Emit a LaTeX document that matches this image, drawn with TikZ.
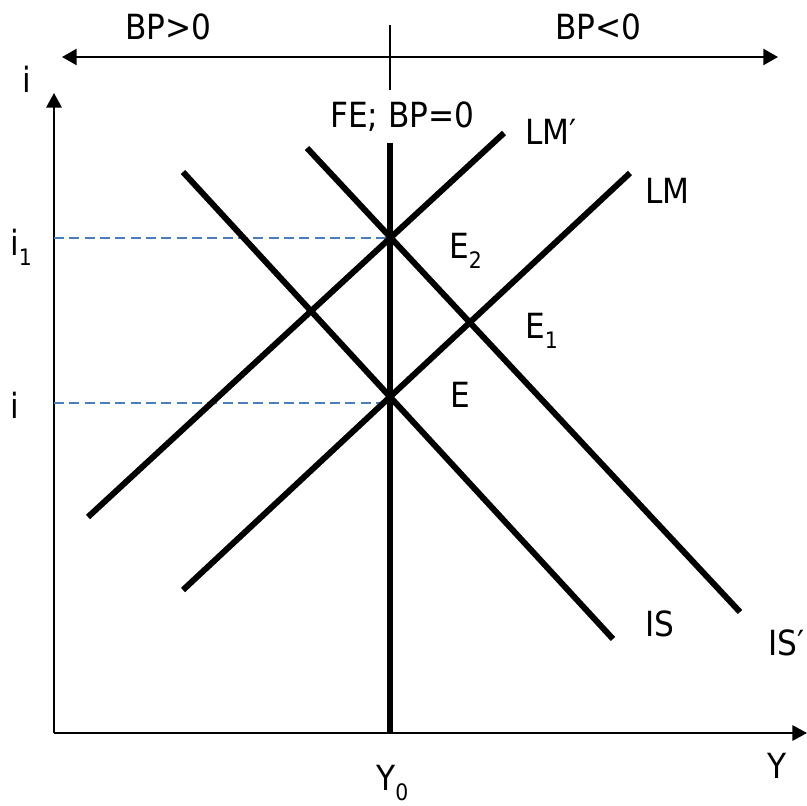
\documentclass[tikz,border=0pt]{standalone}
\usepackage{fontspec}
\setmainfont{DejaVu Sans Condensed}
\usetikzlibrary{arrows.meta}
\definecolor{guideblue}{RGB}{74,126,187}
\newcommand{\sbs}[1]{\raisebox{-0.3em}{\fontsize{17}{17}\selectfont #1}}
\begin{document}
\begin{tikzpicture}[x=0.75pt,y=-0.75pt,
  curve/.style={line width=4.5pt},
  axisline/.style={line width=1.6pt,-{Triangle[length=11pt,width=11.5pt]}},
  guide/.style={draw=guideblue,line width=1.2pt,dash pattern=on 7.5pt off 4pt},
  lbl/.style={inner sep=0pt,anchor=base west,font=\fontsize{26}{30}\selectfont}]
\useasboundingbox (0,0) rectangle (807,806);
% top BP arrow
\coordinate (bpL) at (62,57);
\coordinate (bpR) at (778,57);
\coordinate (tickT) at (390,25);
\coordinate (tickB) at (390,90);
\draw[line width=1.8pt,{Triangle[length=11pt,width=12pt]}-{Triangle[length=11pt,width=12pt]}] (bpL) -- (bpR);
\draw[line width=1.5pt] (tickT) -- (tickB);
% axes
\coordinate (O) at (54,733);
\coordinate (xend) at (807,733);
\coordinate (yend) at (54,93);
\draw[axisline] (O) -- (xend);
\draw[axisline] (O) -- (yend);
% dashed guides
\coordinate (g1a) at (54,238);
\coordinate (g1b) at (386,238);
\coordinate (g0a) at (54,403);
\coordinate (g0b) at (386,403);
\draw[guide] (g1a) -- (g1b);
\draw[guide] (g0a) -- (g0b);
% curves
\coordinate (feT) at (390,143);
\coordinate (feB) at (390,733);
\coordinate (lmpA) at (88,517);
\coordinate (lmpB) at (504,133);
\coordinate (lmA) at (183,590);
\coordinate (lmB) at (630,173);
\coordinate (isA) at (183,172);
\coordinate (isB) at (613,639);
\coordinate (ispA) at (307,148);
\coordinate (ispB) at (740,612);
\draw[curve] (lmpA) -- (lmpB);
\draw[curve] (lmA) -- (lmB);
\draw[curve] (isA) -- (isB);
\draw[curve] (ispA) -- (ispB);
\draw[curve] (feT) -- (feB);
% labels
\node[lbl] (bpgt) at (125,40) {BP>0};
\node[lbl] (bplt) at (555,40) {BP<0};
\node[lbl] (ilab) at (22,93) {i};
\node[lbl] (felab) at (330,128) {FE; BP=0};
\node[lbl] (lmplab) at (525,145) {LM′};
\node[lbl] (lmlab) at (645,204) {LM};
\node[lbl] (i1lab) at (10,255) {i\sbs{1}};
\node[lbl] (i0lab) at (10,418) {i};
\node[lbl] (e2lab) at (449,258) {E\sbs{2}};
\node[lbl] (e1lab) at (525,338) {E\sbs{1}};
\node[lbl] (elab) at (450,407) {E};
\node[lbl] (islab) at (645,636) {IS};
\node[lbl] (isplab) at (768,655) {IS′};
\node[lbl] (ylab) at (767,778) {Y};
\node[lbl] (y0lab) at (376,790) {Y\sbs{0}};
\end{tikzpicture}
\end{document}
